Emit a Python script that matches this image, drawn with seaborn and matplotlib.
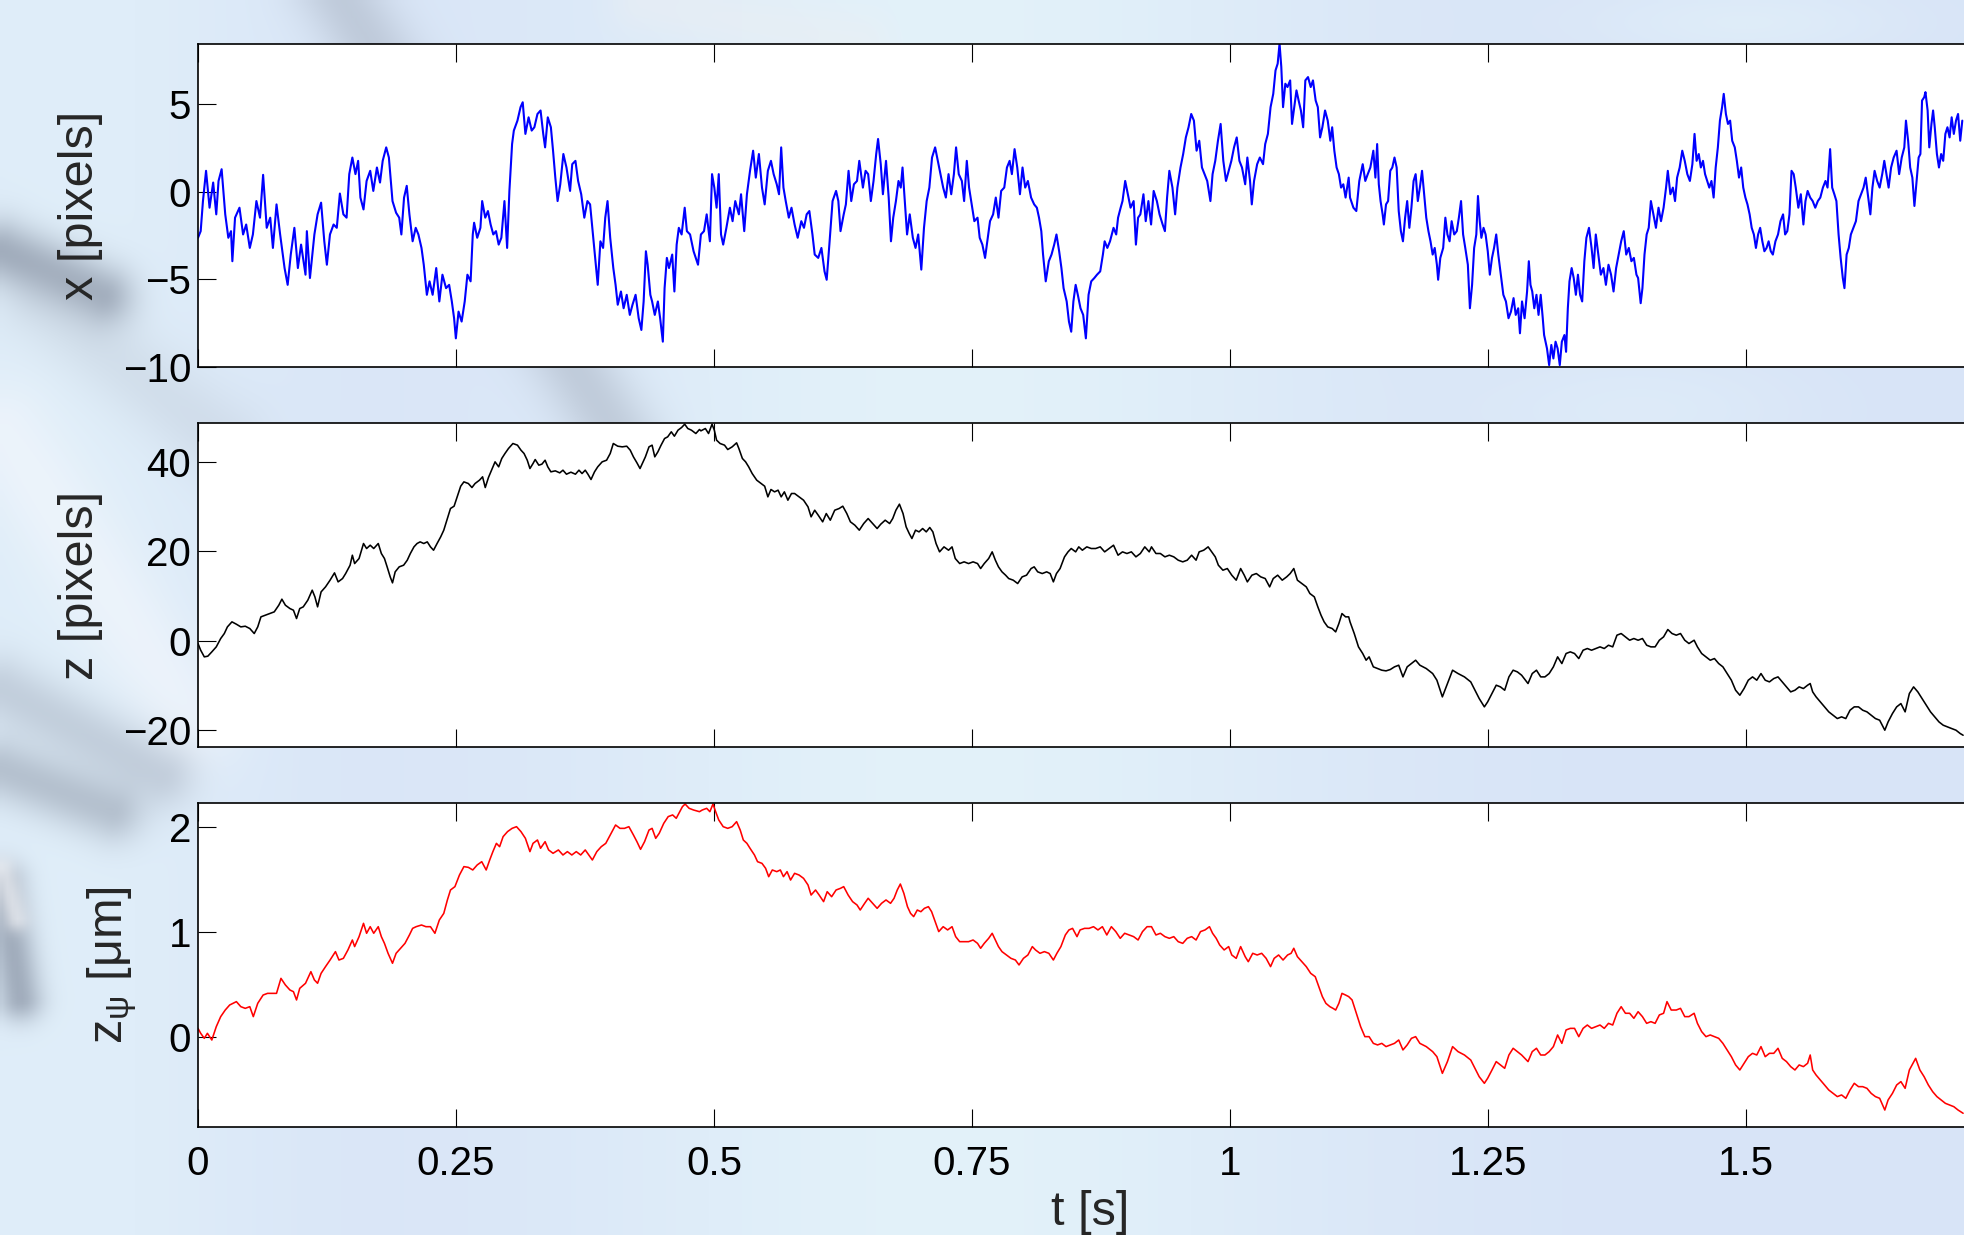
import numpy as np
import matplotlib
matplotlib.use("Agg")
import matplotlib.pyplot as plt
import seaborn as sns

# ---------------------------------------------------------------------------
# Traces: [time in ms, value]
# ---------------------------------------------------------------------------
x_trace = np.array([
    [0, -2.64], [2.6, -2.26], [4.8, -0.54], [7.8, 1.19], [11.2, -0.92], [14.7, 0.52],
    [17.7, -1.30], [19.9, 0.61], [22.9, 1.28], [26.4, -1.30], [29.4, -2.64], [32.0, -2.26],
    [33.3, -3.98], [35.9, -1.49], [40.2, -0.92], [43.7, -2.45], [46.7, -1.88], [50.2, -3.22],
    [53.2, -2.45], [56.6, -0.54], [60.1, -1.49], [63.1, 0.96], [66.6, -2.07], [70.0, -1.49],
    [72.6, -3.22], [76.1, -0.73], [79.6, -2.45], [83.9, -4.37], [86.9, -5.33], [89.9, -3.60],
    [93.4, -2.07], [96.8, -4.37], [99.9, -3.03], [104.2, -4.75], [105.5, -2.26], [108.5, -4.94],
    [112.8, -2.45], [115.9, -1.30], [119.3, -0.63], [122.4, -2.84], [124.9, -4.18], [127.9, -2.45],
    [131.4, -1.88], [134.5, -2.07], [137.5, -0.11], [140.9, -1.30], [144.0, -1.49], [146.6, 1.00],
    [149.6, 1.95], [152.6, 1.00], [155.2, 1.76], [157.4, -0.34], [160.4, -1.02], [163.4, 0.61],
    [166.9, 1.19], [169.9, 0.04], [173.4, 1.38], [176.4, 0.52], [179.0, 1.76], [182.4, 2.53],
    [185.0, 1.95], [188.5, -0.54], [192.0, -1.21], [195.0, -1.49], [197.1, -2.45], [199.7, -0.34],
    [202.3, 0.33], [204.9, -1.30], [208.0, -2.84], [211.0, -2.07], [213.6, -2.45], [216.6, -3.22],
    [218.8, -4.18], [221.8, -5.90], [224.4, -5.13], [227.4, -5.90], [230.9, -4.37], [233.9, -6.28],
    [236.9, -4.75], [240.4, -5.52], [243.4, -5.33], [246.0, -6.28], [248.2, -7.24], [249.9, -8.39],
    [252.5, -6.86], [255.5, -7.43], [258.5, -6.28], [261.1, -4.75], [264.2, -5.13], [266.3, -2.45],
    [267.6, -1.78], [270.6, -2.64], [273.7, -2.07], [275.4, -0.54], [278.4, -1.49], [281.0, -1.11],
    [283.6, -1.88], [286.2, -2.45], [288.8, -2.26], [291.4, -3.03], [294.0, -2.64], [297.0, -0.54],
    [299.6, -3.22], [301.8, 0.04], [304.4, 2.72], [306.1, 3.49], [309.6, 4.06], [312.6, 4.83],
    [314.7, 5.11], [317.3, 3.30], [320.4, 4.25], [323.4, 3.49], [326.0, 3.68], [329.0, 4.44],
    [332.0, 4.64], [334.6, 3.30], [336.4, 2.53], [339.0, 4.25], [342.0, 3.68], [344.1, 2.34],
    [346.3, 0.80], [348.5, -0.54], [351.1, 0.42], [354.1, 2.15], [357.1, 1.38], [360.6, 0.04],
    [362.7, 1.57], [365.8, 1.76], [368.4, 0.61], [371.4, -0.15], [374.4, -1.49], [377.4, -0.54],
    [380.0, -0.73], [383.1, -2.64], [385.2, -3.98], [387.4, -5.33], [390.0, -2.84], [392.6, -3.22],
    [394.7, -1.49], [396.9, -0.54], [399.5, -2.64], [402.5, -4.37], [404.7, -5.33], [406.8, -6.47],
    [409.9, -5.71], [412.5, -6.67], [415.5, -5.90], [418.5, -7.05], [421.1, -6.47], [424.1, -5.90],
    [427.1, -7.24], [429.7, -7.91], [431.9, -6.28], [434.1, -3.41], [435.8, -4.18], [438.4, -5.90],
    [440.1, -6.28], [442.7, -7.05], [445.7, -6.28], [447.9, -7.24], [450.5, -8.58], [452.2, -5.52],
    [454.4, -3.79], [456.5, -4.37], [459.6, -3.60], [461.7, -5.71], [463.9, -3.03], [466.0, -2.07],
    [468.7, -2.45], [471.7, -0.92], [473.8, -2.26], [476.9, -2.45], [480.3, -3.41], [484.6, -4.18],
    [487.4, -2.45], [490.4, -2.26], [493.0, -1.30], [496.1, -2.84], [498.2, 1.00], [500.4, 0.23],
    [502.6, -0.92], [504.7, 1.00], [506.9, -2.45], [509.0, -3.03], [512.1, -2.07], [515.5, -0.92],
    [518.1, -1.69], [520.7, -0.54], [524.2, -1.30], [526.3, -0.15], [529.4, -2.26], [532.0, -0.15],
    [535.0, 1.19], [538.0, 2.34], [540.6, 0.80], [543.6, 2.15], [546.6, 0.23], [549.2, -0.73],
    [552.3, 1.19], [555.3, 1.76], [557.9, 1.00], [560.9, 0.42], [563.1, -0.15], [565.2, 2.53],
    [567.4, 0.23], [569.6, -0.54], [572.6, -1.49], [575.2, -0.92], [578.2, -1.88], [581.2, -2.64],
    [584.7, -1.69], [587.3, -2.07], [589.9, -1.30], [592.5, -1.11], [595.5, -2.45], [597.7, -3.60],
    [601.1, -3.79], [604.2, -3.22], [607.2, -4.56], [609.3, -5.04], [611.9, -3.03], [615.0, -0.54],
    [618.4, 0.04], [620.6, -0.54], [622.7, -2.26], [625.8, -1.30], [627.9, -0.73], [630.5, 1.19],
    [633.1, -0.54], [635.7, 0.42], [638.7, 0.61], [640.9, 1.76], [644.4, 0.23], [647.0, 1.19],
    [649.5, 1.00], [652.1, -0.54], [654.7, 0.61], [657.3, 2.15], [659.1, 3.01], [661.7, 1.57],
    [663.8, -0.15], [666.8, 1.76], [669.4, -0.34], [671.6, -2.84], [673.8, -1.49], [676.4, -0.54],
    [678.9, 0.61], [681.1, 0.23], [682.8, 1.38], [685.0, -0.54], [687.2, -2.45], [689.8, -1.30],
    [692.8, -2.64], [695.4, -3.22], [698.0, -2.45], [701.0, -4.46], [703.6, -2.07], [706.2, -0.54],
    [708.8, 0.23], [711.4, 1.95], [714.4, 2.53], [717.0, 1.76], [719.6, 1.00], [722.2, 0.23],
    [724.8, -0.34], [727.4, 1.00], [730.0, -0.15], [732.6, 1.00], [734.7, 2.53], [737.3, 1.00],
    [740.3, 0.61], [742.5, -0.54], [745.1, 1.76], [747.3, 0.23], [749.9, -0.73], [752.4, -1.69],
    [755.5, -1.49], [757.6, -2.64], [760.2, -3.03], [762.8, -3.79], [765.0, -2.84], [767.6, -1.69],
    [770.6, -1.30], [773.2, -0.34], [775.8, -1.49], [778.4, 0.04], [781.4, 0.23], [784.0, 1.38],
    [786.6, 1.76], [788.8, 1.00], [791.4, 2.43], [794.0, 1.38], [796.6, -0.15], [799.1, 1.38],
    [801.7, 0.23], [804.3, 0.61], [807.4, -0.34], [810.4, -0.73], [813.0, -0.92], [815.1, -1.49],
    [817.3, -2.26], [819.0, -3.60], [821.6, -5.13], [824.6, -3.98], [827.2, -3.60], [829.8, -3.03],
    [832.0, -2.45], [834.6, -3.41], [836.8, -4.37], [838.9, -5.52], [841.9, -6.28], [844.1, -7.43],
    [846.3, -8.01], [848.4, -6.28], [850.6, -5.33], [852.7, -5.90], [855.3, -6.67], [857.9, -7.05],
    [860.5, -8.39], [863.1, -5.90], [865.7, -5.13], [868.7, -4.94], [871.3, -4.75], [874.4, -4.56],
    [877.0, -3.60], [878.7, -2.84], [881.3, -3.22], [883.9, -2.84], [887.3, -2.07], [889.9, -2.45],
    [891.7, -1.49], [894.2, -0.92], [896.0, -0.54], [898.6, 0.61], [901.2, -0.15], [903.8, -0.92],
    [906.8, -0.54], [909.0, -3.03], [911.1, -1.49], [913.3, -1.30], [916.3, -0.15], [918.5, -1.69],
    [921.1, -0.54], [923.7, -1.88], [926.2, 0.04], [929.3, -0.54], [931.9, -1.30], [934.9, -1.88],
    [937.1, -2.26], [939.2, -0.34], [941.4, 1.19], [944.4, 0.23], [947.0, -1.30], [949.2, 0.23],
    [952.2, 1.38], [954.8, 2.15], [957.4, 3.10], [960.0, 3.68], [962.6, 4.44], [965.2, 4.06],
    [967.8, 2.34], [970.4, 2.91], [973.0, 1.38], [975.5, 1.00], [978.1, 0.61], [981.2, -0.54],
    [983.3, 1.00], [985.9, 1.76], [988.5, 2.91], [991.1, 3.87], [993.7, 1.76], [996.3, 0.61],
    [998.9, 1.19], [1001.5, 1.76], [1004.1, 2.53], [1006.7, 3.10], [1009.3, 1.76], [1011.8, 1.38],
    [1014.9, 0.42], [1017.0, 1.95], [1019.6, 0.61], [1021.3, -0.73], [1023.5, 0.61], [1026.5, 1.57],
    [1029.1, 1.95], [1032.2, 1.57], [1034.3, 2.72], [1036.9, 3.30], [1039.5, 4.83], [1042.1, 5.59],
    [1044.3, 6.93], [1046.4, 7.32], [1048.2, 8.47], [1049.9, 7.13], [1051.6, 4.83], [1053.8, 6.17],
    [1055.9, 5.98], [1058.5, 6.36], [1060.3, 3.87], [1062.4, 4.83], [1064.6, 5.79], [1066.7, 5.21],
    [1068.9, 4.64], [1071.1, 3.68], [1073.2, 6.36], [1075.8, 6.55], [1078.4, 5.98], [1080.6, 6.36],
    [1083.2, 5.21], [1085.3, 4.83], [1087.5, 3.10], [1089.7, 3.68], [1092.3, 4.64], [1094.9, 4.06],
    [1097.4, 2.91], [1099.2, 3.68], [1101.3, 2.34], [1103.5, 1.38], [1105.7, 1.00], [1107.8, 0.23],
    [1110.0, 0.42], [1112.2, -0.34], [1115.2, 0.80], [1116.5, -0.34], [1119.8, -0.92], [1122.6, -1.11],
    [1125.5, 0.61], [1128.8, 1.57], [1131.3, 0.61], [1133.7, 1.00], [1136.2, 1.38], [1139.1, 2.34],
    [1141.1, 0.80], [1142.8, 2.72], [1144.4, 0.42], [1146.1, -0.54], [1148.1, -1.30], [1149.3, -1.88],
    [1151.4, -0.73], [1153.4, -0.54], [1155.5, 1.19], [1157.5, 1.38], [1159.6, 1.95], [1161.7, 1.38],
    [1163.7, -1.11], [1165.8, -2.26], [1167.8, -2.84], [1169.9, -1.49], [1171.9, -0.54], [1174.0, -2.07],
    [1176.0, -0.92], [1178.1, 0.61], [1180.1, 1.00], [1182.2, -0.54], [1184.2, 0.23], [1186.3, 1.19],
    [1188.4, -0.15], [1190.4, -1.49], [1192.5, -2.26], [1194.5, -2.84], [1196.6, -3.60], [1198.6, -3.22],
    [1200.7, -4.18], [1201.9, -5.04], [1204.0, -3.79], [1206.8, -3.22], [1208.9, -1.49], [1210.9, -2.45],
    [1213.0, -2.84], [1215.0, -1.69], [1217.5, -2.45], [1220.0, -2.26], [1222.0, -1.49], [1224.1, -0.54],
    [1226.1, -2.45], [1228.2, -3.22], [1230.7, -4.18], [1232.7, -6.67], [1234.8, -5.33], [1236.8, -3.22],
    [1238.9, -2.45], [1240.5, -0.25], [1242.2, -1.69], [1243.8, -2.64], [1245.9, -2.07], [1247.9, -2.45],
    [1250.0, -3.41], [1252.0, -4.75], [1254.1, -3.79], [1256.1, -3.22], [1258.2, -2.45], [1260.2, -3.60],
    [1262.7, -4.75], [1265.1, -5.90], [1267.6, -6.28], [1270.1, -7.24], [1272.5, -6.86], [1275.0, -6.09],
    [1277.1, -7.05], [1279.5, -6.67], [1281.2, -8.10], [1283.2, -6.28], [1285.7, -7.24], [1288.1, -5.71],
    [1289.8, -3.98], [1291.4, -5.33], [1293.1, -5.71], [1295.1, -6.67], [1297.2, -5.90], [1299.2, -7.05],
    [1301.3, -5.90], [1303.3, -7.24], [1304.6, -8.20], [1307.4, -8.97], [1309.5, -9.92], [1311.6, -8.77],
    [1313.6, -9.54], [1315.7, -8.58], [1317.7, -8.97], [1319.8, -9.92], [1321.8, -8.58], [1324.3, -8.20],
    [1325.9, -9.16], [1327.6, -6.67], [1329.2, -5.13], [1331.3, -4.37], [1333.3, -4.94], [1335.4, -5.90],
    [1337.4, -4.75], [1339.5, -5.90], [1341.5, -6.28], [1343.6, -3.98], [1345.6, -2.64], [1348.1, -2.07],
    [1350.6, -3.22], [1352.6, -4.37], [1354.7, -2.45], [1357.1, -3.60], [1359.6, -4.75], [1362.1, -4.37],
    [1364.5, -5.33], [1367.0, -4.18], [1369.5, -4.75], [1371.9, -5.71], [1374.4, -4.37], [1376.9, -3.60],
    [1379.3, -2.84], [1381.8, -2.26], [1384.2, -3.60], [1386.7, -3.22], [1389.2, -3.98], [1391.6, -3.79],
    [1394.1, -4.75], [1395.7, -4.94], [1398.2, -6.38], [1399.9, -5.52], [1401.9, -3.60], [1404.0, -2.45],
    [1406.0, -2.07], [1408.1, -0.54], [1410.5, -1.30], [1413.0, -2.07], [1415.5, -0.92], [1417.9, -1.69],
    [1420.4, -0.92], [1422.8, 0.23], [1424.5, 1.19], [1427.0, -0.15], [1429.4, 0.23], [1431.5, -0.54],
    [1433.5, 0.80], [1436.0, 1.38], [1438.5, 2.34], [1440.9, 1.76], [1443.4, 1.00], [1445.9, 0.61],
    [1448.3, 1.57], [1450.4, 3.30], [1452.4, 1.76], [1454.5, 2.15], [1456.5, 1.38], [1458.6, 1.76],
    [1460.6, 1.00], [1462.7, 0.61], [1464.7, 0.23], [1466.8, 0.61], [1468.9, -0.34], [1470.9, 1.38],
    [1473.0, 2.53], [1475.0, 4.06], [1477.1, 4.83], [1478.7, 5.59], [1480.8, 4.44], [1482.8, 3.87],
    [1484.9, 4.06], [1486.9, 2.91], [1489.4, 2.53], [1491.4, 1.76], [1493.5, 0.80], [1495.6, 1.38],
    [1497.6, 0.23], [1499.7, -0.34], [1501.7, -0.73], [1503.8, -1.30], [1505.8, -2.07], [1507.9, -2.45],
    [1509.9, -3.22], [1512.0, -2.45], [1514.0, -2.07], [1516.1, -2.84], [1518.1, -3.41], [1520.2, -3.22],
    [1522.2, -2.84], [1524.3, -3.41], [1526.3, -3.60], [1528.8, -2.84], [1531.3, -2.45], [1533.7, -1.69],
    [1536.2, -1.30], [1538.2, -2.45], [1540.3, -2.26], [1542.4, -1.30], [1544.4, 1.19], [1546.5, 1.00],
    [1548.5, 0.23], [1551.0, -0.92], [1553.4, -0.15], [1555.9, -1.88], [1557.9, -0.54], [1560.0, 0.04],
    [1562.5, -0.34], [1564.9, -0.54], [1567.4, -0.92], [1569.9, -0.54], [1572.3, -0.34], [1574.8, 0.23],
    [1577.3, 0.61], [1579.3, 0.23], [1581.8, 2.43], [1583.8, 0.23], [1585.9, -0.15], [1587.9, -0.54],
    [1590.0, -2.45], [1592.0, -3.79], [1594.1, -4.94], [1595.7, -5.52], [1597.8, -3.60], [1599.9, -3.22],
    [1601.9, -2.45], [1604.4, -2.07], [1606.8, -1.69], [1609.3, -0.54], [1611.8, -0.15], [1614.2, 0.23],
    [1616.3, 0.80], [1618.3, -0.15], [1620.8, -1.30], [1622.8, 0.23], [1624.9, 1.19], [1627.4, 0.61],
    [1629.8, 0.23], [1632.3, 1.00], [1634.3, 1.76], [1636.4, 1.00], [1638.5, 0.23], [1640.9, 1.38],
    [1643.4, 1.95], [1646.2, 2.34], [1648.7, 1.00], [1651.2, 1.95], [1653.7, 2.53], [1655.3, 4.06],
    [1657.4, 2.91], [1659.4, 1.38], [1661.5, 0.80], [1663.5, -0.82], [1665.6, 0.61], [1667.6, 1.95],
    [1669.3, 2.15], [1670.9, 5.21], [1673.0, 5.40], [1674.2, 5.69], [1676.3, 4.64], [1677.9, 2.53],
    [1680.0, 3.87], [1681.6, 4.64], [1683.2, 3.68], [1685.3, 2.15], [1687.3, 1.38], [1689.4, 2.15],
    [1691.4, 1.76], [1693.5, 3.30], [1695.5, 3.68], [1697.6, 3.10], [1699.6, 4.25], [1701.7, 3.30],
    [1703.8, 4.06], [1705.8, 4.44], [1707.9, 2.91], [1709.9, 4.06],
])

z_trace = np.array([
    [0, -0.67], [2.6, -2.17], [6.1, -3.66], [9.5, -3.51], [13.4, -2.54], [17.7, -1.42],
    [22.0, 0.45], [25.5, 1.57], [28.5, 3.06], [32.9, 4.19], [37.2, 3.66], [41.5, 3.06],
    [45.8, 3.21], [50.2, 2.69], [54.5, 1.57], [57.9, 3.06], [61.0, 5.31], [65.3, 5.68],
    [69.6, 6.05], [73.9, 6.43], [78.3, 7.92], [81.3, 9.27], [84.7, 7.92], [89.1, 7.17],
    [92.5, 6.80], [95.5, 4.93], [98.6, 7.17], [102.0, 7.55], [106.4, 9.04], [110.7, 11.29],
    [113.3, 9.79], [115.9, 7.55], [119.3, 10.91], [123.6, 12.03], [128.0, 13.53], [132.3, 15.17],
    [135.8, 13.15], [140.1, 13.90], [143.1, 15.02], [147.4, 16.89], [149.6, 19.13], [151.8, 17.26],
    [156.1, 18.39], [160.4, 21.75], [163.4, 20.63], [166.9, 21.37], [170.3, 20.63], [174.7, 21.75],
    [177.7, 19.51], [180.7, 18.39], [183.3, 16.52], [186.3, 14.27], [188.5, 12.93], [191.1, 15.40],
    [195.0, 16.52], [199.3, 16.89], [202.8, 18.01], [205.8, 19.51], [209.3, 21.00], [212.3, 21.75],
    [215.3, 22.12], [218.8, 21.75], [222.2, 22.12], [225.3, 21.00], [228.3, 20.25], [231.7, 21.75],
    [235.2, 23.24], [238.2, 24.74], [241.2, 26.98], [244.7, 29.60], [248.2, 30.12], [251.2, 32.21],
    [254.6, 34.60], [257.7, 35.57], [262.0, 35.20], [265.5, 34.30], [268.5, 35.20], [272.8, 35.95],
    [275.8, 36.70], [278.4, 34.30], [281.5, 36.55], [284.5, 38.19], [287.9, 40.06], [291.4, 38.94],
    [294.4, 40.81], [297.5, 41.93], [300.9, 43.05], [305.2, 44.17], [309.6, 43.80], [313.0, 42.68],
    [316.0, 41.93], [319.1, 40.43], [321.7, 38.56], [324.7, 39.69], [326.8, 40.58], [330.3, 39.31],
    [333.3, 39.54], [336.4, 40.43], [339.0, 38.94], [342.0, 37.82], [346.3, 38.04], [350.6, 37.59],
    [353.7, 38.19], [357.1, 37.29], [361.4, 37.74], [365.8, 37.29], [369.2, 38.19], [372.2, 37.44],
    [375.3, 38.19], [377.9, 37.29], [380.9, 36.10], [384.3, 37.82], [387.4, 38.94], [391.7, 40.06],
    [396.0, 40.43], [399.5, 41.93], [402.5, 44.17], [406.8, 43.57], [411.2, 43.42], [415.5, 43.57],
    [418.9, 42.68], [422.0, 41.18], [425.4, 39.84], [428.4, 38.56], [430.6, 39.69], [433.6, 41.18],
    [437.1, 43.42], [440.1, 43.80], [442.7, 41.18], [445.7, 42.30], [448.8, 43.80], [452.2, 45.29],
    [455.2, 45.66], [458.7, 46.79], [461.7, 45.81], [465.2, 47.16], [468.7, 47.76], [471.7, 48.50],
    [474.7, 47.53], [478.2, 47.16], [482.5, 46.41], [486.0, 47.31], [487.4, 47.01], [491.7, 47.53],
    [494.8, 46.41], [498.2, 48.50], [500.4, 47.16], [502.6, 44.92], [506.0, 44.17], [510.3, 43.80],
    [513.4, 42.82], [517.7, 43.42], [522.0, 44.32], [524.2, 43.05], [527.6, 40.81], [530.7, 40.06],
    [533.7, 38.94], [537.1, 37.44], [541.5, 35.95], [545.8, 35.20], [549.2, 34.60], [552.3, 32.21],
    [555.3, 33.86], [558.8, 33.33], [562.2, 33.71], [565.2, 32.21], [568.3, 33.33], [571.7, 31.46],
    [575.2, 32.96], [578.2, 32.96], [582.5, 32.21], [586.9, 31.46], [591.2, 29.97], [594.2, 27.73],
    [597.7, 29.22], [601.1, 28.10], [605.4, 26.61], [608.9, 28.47], [612.8, 26.98], [617.1, 29.22],
    [621.4, 29.60], [624.9, 30.12], [628.8, 28.47], [632.3, 26.61], [636.6, 25.86], [640.9, 24.74],
    [645.2, 26.23], [649.5, 27.35], [653.9, 26.23], [658.2, 25.11], [661.7, 26.08], [666.0, 26.98],
    [670.3, 26.23], [673.3, 27.35], [676.4, 29.22], [679.8, 30.57], [683.3, 28.47], [686.3, 25.49],
    [689.3, 23.99], [691.9, 22.87], [695.4, 24.74], [698.8, 24.36], [702.3, 25.11], [705.8, 24.36],
    [709.2, 25.34], [712.2, 24.36], [715.3, 21.75], [718.7, 19.88], [723.0, 21.00], [727.4, 20.25],
    [730.8, 21.00], [733.9, 18.39], [738.2, 17.26], [742.5, 17.64], [746.8, 17.26], [751.2, 17.64],
    [755.5, 17.26], [758.5, 16.14], [762.0, 17.26], [766.3, 18.39], [769.7, 19.88], [772.8, 18.01],
    [775.8, 16.52], [779.2, 15.40], [782.7, 14.65], [785.7, 13.90], [790.1, 13.53], [794.4, 12.78],
    [798.7, 14.27], [803.0, 14.65], [807.4, 16.14], [810.4, 16.52], [813.8, 15.40], [818.2, 15.02],
    [822.5, 15.40], [825.9, 15.02], [829.0, 13.15], [832.0, 15.02], [835.5, 16.14], [839.8, 18.76],
    [843.2, 19.88], [846.3, 20.63], [850.6, 19.88], [853.6, 21.00], [857.1, 20.25], [861.4, 21.00],
    [865.7, 20.63], [870.0, 20.63], [874.4, 21.00], [878.7, 19.88], [883.0, 20.63], [887.3, 21.37],
    [891.7, 19.13], [896.0, 19.88], [900.3, 19.51], [904.6, 19.88], [909.0, 18.76], [913.3, 19.51],
    [917.6, 21.00], [921.9, 19.88], [924.1, 21.00], [928.4, 19.51], [932.7, 19.51], [937.1, 18.76],
    [941.4, 19.13], [945.7, 18.76], [950.0, 18.01], [954.4, 17.64], [958.7, 18.01], [963.0, 19.13],
    [967.3, 18.01], [970.3, 19.88], [974.7, 20.25], [979.0, 21.00], [982.5, 19.88], [985.9, 18.76],
    [988.9, 16.89], [993.3, 15.77], [997.6, 16.14], [1001.9, 14.65], [1006.2, 13.53], [1010.5, 16.14],
    [1014.0, 14.65], [1017.0, 13.15], [1021.4, 14.65], [1025.7, 15.02], [1030.0, 14.27], [1034.3, 13.90],
    [1038.6, 12.03], [1042.1, 13.90], [1046.4, 14.65], [1050.8, 13.53], [1055.1, 14.27], [1058.5, 15.02],
    [1062.0, 16.14], [1065.5, 13.53], [1069.8, 12.78], [1074.1, 12.03], [1077.6, 10.54], [1081.9, 9.79],
    [1085.3, 7.55], [1088.4, 5.68], [1091.4, 4.19], [1094.9, 3.06], [1099.2, 2.69], [1102.6, 1.94],
    [1105.7, 3.81], [1108.7, 6.05], [1112.2, 5.31], [1115.2, 5.31], [1116.5, 4.19], [1120.6, 1.57],
    [1124.7, -1.42], [1128.8, -2.91], [1132.1, -4.41], [1135.0, -3.66], [1139.1, -5.90], [1143.2, -6.28],
    [1147.3, -6.65], [1151.4, -6.80], [1155.5, -6.50], [1159.6, -5.90], [1163.7, -5.53], [1167.8, -8.15],
    [1171.9, -5.90], [1176.0, -5.16], [1180.1, -4.41], [1184.2, -5.53], [1190.4, -6.28], [1196.6, -7.40],
    [1200.7, -8.89], [1206.0, -12.63], [1210.9, -9.64], [1215.9, -6.65], [1221.2, -7.40], [1227.4, -8.15],
    [1233.5, -9.27], [1237.6, -11.14], [1241.7, -13.00], [1246.7, -14.87], [1249.9, -13.75], [1254.1, -11.88],
    [1258.2, -10.01], [1262.3, -10.39], [1266.4, -11.14], [1270.5, -8.15], [1274.6, -6.65], [1278.7, -7.03],
    [1282.8, -7.77], [1289.0, -9.64], [1293.1, -7.40], [1297.2, -6.65], [1301.3, -8.15], [1305.4, -8.15],
    [1309.5, -7.40], [1313.6, -5.90], [1317.7, -3.66], [1321.8, -5.16], [1325.9, -2.91], [1330.0, -2.54],
    [1334.1, -2.91], [1338.2, -4.04], [1342.4, -2.17], [1346.5, -1.79], [1350.6, -2.17], [1354.7, -1.79],
    [1358.8, -1.42], [1362.9, -1.79], [1367.0, -1.05], [1371.1, -1.42], [1375.2, 1.20], [1379.3, 1.57],
    [1383.4, 0.82], [1387.5, 0.07], [1391.6, 0.45], [1395.7, 0.07], [1399.9, 0.45], [1404.0, -1.05],
    [1408.1, -1.42], [1412.2, -1.42], [1416.3, 0.07], [1420.4, 0.82], [1424.5, 2.47], [1428.6, 1.57],
    [1432.7, 1.20], [1436.8, 1.57], [1440.9, 0.07], [1445.0, -0.67], [1450.0, 0.07], [1453.2, -1.42],
    [1457.3, -2.91], [1461.5, -3.66], [1465.6, -4.41], [1469.7, -4.04], [1473.8, -5.16], [1477.9, -5.90],
    [1482.0, -7.40], [1486.1, -8.89], [1490.2, -11.14], [1494.3, -12.26], [1498.4, -10.76], [1502.5, -8.89],
    [1506.6, -8.15], [1510.7, -8.89], [1514.8, -7.40], [1518.9, -8.89], [1523.0, -9.27], [1527.2, -8.52],
    [1531.3, -8.15], [1535.4, -9.27], [1539.5, -10.39], [1543.6, -11.51], [1547.7, -11.14], [1551.8, -10.39],
    [1555.9, -10.76], [1560.0, -10.01], [1562.5, -9.64], [1564.9, -11.51], [1568.2, -12.63], [1572.3, -13.75],
    [1576.4, -14.87], [1580.5, -15.99], [1584.7, -16.74], [1588.8, -17.49], [1592.9, -17.11], [1597.0, -17.49],
    [1601.1, -15.62], [1605.2, -14.87], [1609.3, -14.87], [1613.4, -15.62], [1617.5, -15.99], [1621.6, -16.74],
    [1625.7, -17.49], [1629.8, -17.86], [1634.8, -20.10], [1638.0, -18.24], [1642.2, -16.37], [1646.3, -14.87],
    [1650.4, -14.13], [1654.5, -15.99], [1658.6, -11.88], [1662.7, -10.39], [1666.8, -11.51], [1670.9, -13.00],
    [1675.0, -14.50], [1679.1, -15.99], [1683.2, -17.11], [1687.3, -18.24], [1691.4, -18.98], [1695.5, -19.36],
    [1699.6, -19.73], [1703.8, -20.10], [1707.9, -20.85], [1710.7, -21.23],
])

zpsi_trace = np.array([
    [0, 0.079], [2.6, 0.032], [6.1, -0.016], [9.1, 0.032], [13.4, -0.032], [17.7, 0.095],
    [22.0, 0.191], [26.4, 0.254], [30.7, 0.302], [37.2, 0.334], [41.5, 0.286], [45.8, 0.270],
    [50.2, 0.286], [53.6, 0.191], [57.9, 0.318], [63.1, 0.397], [67.4, 0.413], [71.8, 0.413],
    [76.1, 0.413], [80.4, 0.556], [84.7, 0.493], [89.1, 0.445], [92.5, 0.429], [95.5, 0.350],
    [98.6, 0.461], [104.2, 0.509], [109.4, 0.620], [112.8, 0.541], [115.9, 0.509], [119.3, 0.604],
    [123.6, 0.668], [128.0, 0.731], [133.2, 0.811], [136.6, 0.731], [140.9, 0.747], [145.3, 0.827],
    [149.6, 0.922], [151.8, 0.859], [156.1, 0.954], [160.4, 1.081], [163.4, 0.986], [166.9, 1.049],
    [170.3, 0.986], [174.7, 1.049], [177.7, 0.954], [180.7, 0.890], [184.2, 0.795], [188.5, 0.700],
    [192.0, 0.795], [196.3, 0.843], [200.6, 0.890], [204.9, 0.970], [208.0, 1.033], [211.4, 1.049],
    [216.6, 1.065], [220.9, 1.049], [225.3, 1.049], [229.6, 0.986], [233.9, 1.113], [238.2, 1.176],
    [241.7, 1.304], [244.7, 1.399], [249.0, 1.431], [253.4, 1.542], [257.7, 1.622], [262.0, 1.615],
    [266.3, 1.590], [270.6, 1.638], [275.0, 1.669], [279.3, 1.590], [282.7, 1.685], [285.8, 1.765],
    [289.2, 1.844], [292.3, 1.812], [295.7, 1.908], [300.0, 1.956], [304.4, 1.987], [308.7, 2.003],
    [313.0, 1.956], [317.3, 1.892], [321.7, 1.765], [324.7, 1.844], [329.0, 1.876], [332.0, 1.797],
    [336.4, 1.860], [339.8, 1.781], [344.1, 1.749], [349.3, 1.781], [353.7, 1.733], [358.0, 1.765],
    [362.3, 1.733], [366.6, 1.765], [370.9, 1.733], [375.3, 1.781], [378.7, 1.733], [382.2, 1.685],
    [386.5, 1.765], [390.8, 1.812], [395.2, 1.844], [399.5, 1.924], [404.7, 2.019], [409.0, 1.987],
    [413.3, 1.987], [417.6, 2.003], [422.0, 1.924], [425.4, 1.860], [428.9, 1.787], [432.8, 1.860],
    [437.1, 1.971], [440.1, 1.987], [443.6, 1.892], [447.0, 1.940], [451.4, 2.035], [455.7, 2.099],
    [460.0, 2.115], [463.5, 2.083], [466.9, 2.146], [469.5, 2.194], [472.1, 2.219], [476.0, 2.178],
    [480.3, 2.162], [486.0, 2.146], [488.7, 2.162], [493.0, 2.178], [496.1, 2.146], [499.1, 2.219],
    [501.7, 2.146], [504.7, 2.067], [509.0, 2.003], [513.4, 1.987], [517.7, 2.003], [522.0, 2.051],
    [525.5, 1.971], [528.5, 1.876], [532.0, 1.844], [535.0, 1.797], [539.3, 1.733], [542.3, 1.669],
    [546.6, 1.653], [550.1, 1.606], [553.1, 1.526], [556.6, 1.590], [560.9, 1.574], [564.4, 1.590],
    [567.4, 1.526], [570.9, 1.574], [574.3, 1.494], [578.2, 1.558], [582.5, 1.542], [586.9, 1.510],
    [591.2, 1.447], [594.2, 1.351], [598.5, 1.399], [602.0, 1.351], [606.3, 1.288], [609.8, 1.383],
    [614.1, 1.335], [618.4, 1.399], [622.7, 1.415], [625.8, 1.431], [630.1, 1.351], [634.4, 1.288],
    [638.7, 1.256], [641.8, 1.208], [646.1, 1.272], [649.5, 1.320], [653.9, 1.272], [658.2, 1.224],
    [662.5, 1.272], [666.8, 1.304], [671.2, 1.272], [674.6, 1.320], [677.7, 1.399], [680.7, 1.456],
    [684.1, 1.367], [687.6, 1.240], [690.6, 1.176], [693.6, 1.145], [697.1, 1.208], [700.6, 1.192],
    [704.0, 1.224], [707.9, 1.240], [711.0, 1.192], [714.4, 1.097], [717.9, 1.002], [722.2, 1.049],
    [726.5, 1.018], [730.8, 1.049], [734.3, 0.954], [738.2, 0.906], [742.5, 0.906], [746.8, 0.906],
    [751.2, 0.922], [755.5, 0.890], [758.5, 0.843], [762.0, 0.890], [766.3, 0.938], [769.7, 0.986],
    [772.8, 0.922], [775.8, 0.859], [779.2, 0.811], [783.6, 0.779], [787.9, 0.747], [792.2, 0.731],
    [795.7, 0.684], [800.0, 0.747], [804.3, 0.779], [808.6, 0.859], [811.7, 0.827], [816.0, 0.795],
    [820.3, 0.811], [824.6, 0.795], [829.0, 0.731], [832.4, 0.795], [836.3, 0.859], [840.6, 0.970],
    [844.1, 1.018], [847.6, 1.033], [851.9, 0.954], [854.9, 1.018], [859.2, 1.033], [863.6, 1.033],
    [867.9, 1.049], [872.2, 1.018], [876.5, 1.049], [880.8, 0.970], [885.2, 1.049], [889.5, 1.002],
    [893.8, 0.938], [898.1, 0.986], [902.5, 0.970], [906.8, 0.954], [911.1, 0.922], [915.4, 1.002],
    [919.8, 1.049], [924.1, 1.049], [928.4, 0.970], [932.7, 0.986], [937.1, 0.954], [941.4, 0.938],
    [945.7, 0.954], [950.0, 0.906], [954.4, 0.890], [958.7, 0.938], [963.0, 0.954], [967.3, 0.922],
    [971.6, 1.002], [976.0, 1.018], [980.3, 1.049], [983.3, 0.986], [986.8, 0.938], [990.2, 0.874],
    [994.5, 0.827], [998.9, 0.859], [1001.9, 0.779], [1006.2, 0.747], [1010.5, 0.859], [1014.9, 0.763],
    [1017.9, 0.715], [1022.2, 0.795], [1026.5, 0.779], [1030.9, 0.795], [1035.2, 0.747], [1039.5, 0.668],
    [1043.0, 0.747], [1047.3, 0.779], [1051.6, 0.731], [1056.0, 0.779], [1059.4, 0.795], [1062.0, 0.843],
    [1065.5, 0.763], [1069.8, 0.715], [1074.1, 0.668], [1078.4, 0.604], [1082.8, 0.572], [1086.2, 0.477],
    [1089.7, 0.382], [1093.1, 0.318], [1097.0, 0.286], [1100.0, 0.270], [1102.6, 0.254], [1105.7, 0.318],
    [1108.7, 0.413], [1112.2, 0.397], [1115.2, 0.382], [1118.5, 0.350], [1122.6, 0.223], [1126.8, 0.095],
    [1130.9, 0.000], [1135.0, 0.000], [1139.1, -0.064], [1143.2, -0.079], [1147.3, -0.064], [1151.4, -0.095],
    [1155.5, -0.079], [1159.6, -0.064], [1163.7, -0.032], [1167.8, -0.127], [1171.9, -0.079], [1176.0, -0.016],
    [1180.1, 0.000], [1184.2, -0.064], [1190.4, -0.095], [1196.6, -0.143], [1200.7, -0.191], [1206.0, -0.350],
    [1210.9, -0.238], [1215.9, -0.095], [1221.2, -0.143], [1227.4, -0.175], [1233.5, -0.223], [1237.6, -0.302],
    [1241.7, -0.382], [1246.7, -0.445], [1249.9, -0.397], [1254.1, -0.318], [1258.2, -0.238], [1262.3, -0.270],
    [1266.4, -0.302], [1270.5, -0.175], [1274.6, -0.111], [1278.7, -0.143], [1282.8, -0.175], [1289.0, -0.238],
    [1293.1, -0.143], [1297.2, -0.111], [1301.3, -0.175], [1305.4, -0.175], [1309.5, -0.143], [1313.6, -0.095],
    [1317.7, 0.016], [1321.8, -0.064], [1325.9, 0.064], [1330.0, 0.079], [1334.1, 0.079], [1338.2, 0.000],
    [1342.4, 0.079], [1346.5, 0.111], [1350.6, 0.079], [1354.7, 0.095], [1358.8, 0.111], [1362.9, 0.079],
    [1367.0, 0.127], [1371.1, 0.111], [1375.2, 0.223], [1379.3, 0.286], [1383.4, 0.223], [1387.5, 0.223],
    [1391.6, 0.175], [1395.7, 0.238], [1399.9, 0.191], [1404.0, 0.127], [1408.1, 0.143], [1412.2, 0.127],
    [1416.3, 0.207], [1420.4, 0.223], [1423.7, 0.334], [1427.8, 0.254], [1432.7, 0.254], [1436.8, 0.270],
    [1440.9, 0.191], [1445.0, 0.191], [1450.0, 0.223], [1453.2, 0.127], [1457.3, 0.048], [1461.5, 0.000],
    [1465.6, 0.016], [1469.7, 0.000], [1473.8, -0.016], [1477.9, -0.064], [1482.0, -0.127], [1486.1, -0.191],
    [1490.2, -0.270], [1494.3, -0.318], [1498.4, -0.254], [1502.5, -0.191], [1506.6, -0.159], [1510.7, -0.175],
    [1514.8, -0.095], [1518.9, -0.191], [1523.0, -0.159], [1527.2, -0.159], [1531.3, -0.111], [1535.4, -0.207],
    [1539.5, -0.238], [1543.6, -0.286], [1547.7, -0.318], [1551.8, -0.270], [1555.9, -0.286], [1560.0, -0.254],
    [1562.5, -0.175], [1564.9, -0.318], [1568.2, -0.366], [1572.3, -0.413], [1576.4, -0.461], [1580.5, -0.509],
    [1584.7, -0.541], [1588.8, -0.572], [1592.9, -0.556], [1597.0, -0.588], [1601.1, -0.509], [1605.2, -0.445],
    [1609.3, -0.477], [1613.4, -0.477], [1617.5, -0.493], [1621.6, -0.541], [1625.7, -0.572], [1629.8, -0.588],
    [1634.8, -0.700], [1638.0, -0.604], [1642.2, -0.541], [1646.3, -0.461], [1650.4, -0.429], [1654.5, -0.493],
    [1658.6, -0.318], [1664.7, -0.207], [1668.8, -0.318], [1672.9, -0.382], [1677.0, -0.461], [1681.2, -0.525],
    [1685.3, -0.572], [1689.4, -0.604], [1693.5, -0.636], [1697.6, -0.652], [1701.7, -0.668], [1705.8, -0.700],
    [1710.7, -0.731],
])

# Axis ticks and labels
time_ticks = [0, 0.25, 0.5, 0.75, 1.0, 1.25, 1.5]
time_tick_labels = ["0", "0.25", "0.5", "0.75", "1", "1.25", "1.5"]
x_ticks = [-10, -5, 0, 5]
z_ticks = [-20, 0, 20, 40]
zpsi_ticks = [0, 1, 2]

# ---------------------------------------------------------------------------
# Style
# ---------------------------------------------------------------------------
sns.set_style("ticks")
plt.rcParams["font.family"] = ["Liberation Sans", "DejaVu Sans"]
plt.rcParams["mathtext.fontset"] = "custom"
plt.rcParams["mathtext.rm"] = "Liberation Sans"
plt.rcParams["mathtext.it"] = "Liberation Sans:italic"
plt.rcParams["axes.unicode_minus"] = True

W, H = 1965, 1235
fig = plt.figure(figsize=(W / 100, H / 100), dpi=100)


# ---------------------------------------------------------------------------
# Soft pale-blue backdrop with blurred grey streaks on the left
# ---------------------------------------------------------------------------
def backdrop():
    step = 5.0
    gy, gx = np.mgrid[0:H // 5 + 1, 0:W // 5 + 1]
    X = gx * step
    Y = gy * step
    blue = np.array([216, 228, 247], float)
    cyan = np.array([230, 246, 251], float)
    w = (0.75 * np.exp(-((X - 950) / 380.0) ** 2)
         + 0.55 * np.exp(-((X - 60) / 220.0) ** 2)
         + 0.45 * np.exp(-((X - 1750) / 160.0) ** 2) * np.exp(-((Y - 20) / 40.0) ** 2)
         + 0.35 * np.exp(-((X - 1650) / 160.0) ** 2) * np.exp(-((Y - 410) / 60.0) ** 2))
    w = np.clip(w, 0, 1)[..., None]
    img = blue * (1 - w) + cyan * w

    def streak(p0, p1, sigma, col, alpha):
        nonlocal img
        p0 = np.array(p0, float)
        p1 = np.array(p1, float)
        d = p1 - p0
        L2 = (d ** 2).sum()
        s = np.clip(((X - p0[0]) * d[0] + (Y - p0[1]) * d[1]) / L2, 0, 1)
        dist = np.hypot(X - (p0[0] + s * d[0]), Y - (p0[1] + s * d[1]))
        a = (alpha * np.exp(-0.5 * (dist / sigma) ** 2))[..., None]
        img = img * (1 - a) + np.array(col, float) * a

    streak((330, -20), (620, 440), 28, (165, 175, 190), 0.5)
    streak((640, 0), (860, 40), 22, (235, 238, 242), 0.5)
    streak((0, 250), (100, 295), 22, (120, 130, 148), 0.6)
    streak((40, 300), (220, 440), 30, (180, 190, 204), 0.3)
    streak((0, 430), (190, 720), 34, (246, 248, 252), 0.55)
    streak((0, 690), (160, 775), 24, (160, 170, 186), 0.45)
    streak((0, 770), (110, 812), 22, (140, 150, 166), 0.5)
    streak((0, 885), (18, 1000), 16, (120, 130, 148), 0.6)
    streak((0, 870), (14, 920), 9, (250, 250, 252), 0.6)
    return np.clip(img, 0, 255) / 255.0


bg_ax = fig.add_axes([0, 0, 1, 1], zorder=-10)
bg_ax.imshow(backdrop(), extent=[0, W, H, 0], aspect="auto", interpolation="bilinear")
bg_ax.set_axis_off()

# ---------------------------------------------------------------------------
# Panels
# ---------------------------------------------------------------------------
left = 198 / W
width = (1982 - 198) / W
t_end = 1.729


def panel_rect(top_px, bottom_px):
    return [left, 1 - bottom_px / H, width, (bottom_px - top_px) / H]


ax_x = fig.add_axes(panel_rect(43.5, 366.5))
ax_z = fig.add_axes(panel_rect(423.3, 746.7))
ax_p = fig.add_axes(panel_rect(803.3, 1126.7))

series = [
    (ax_x, x_trace, "#0000ff", 1.5, (-10.0, 8.47), x_ticks),
    (ax_z, z_trace, "#000000", 1.15, (-23.8, 48.7), z_ticks),
    (ax_p, zpsi_trace, "#ff0000", 1.15, (-0.859, 2.226), zpsi_ticks),
]

for ax, trace, colour, lw, ylim, yt in series:
    sns.lineplot(x=trace[:, 0] / 1000.0, y=trace[:, 1], ax=ax, color=colour,
                 linewidth=lw, estimator=None, sort=False, legend=False)
    ax.set_facecolor("white")
    ax.set_xlim(0, t_end)
    ax.set_ylim(*ylim)
    ax.set_xticks(time_ticks)
    ax.set_yticks(yt)
    ax.set_yticklabels([str(v).replace("-", "\u2212") for v in yt])
    ax.tick_params(direction="in", length=13, width=0.8, top=True, right=True,
                   labelsize=29, colors="black")
    ax.tick_params(axis="x", pad=13.5)
    ax.tick_params(axis="y", pad=5)
    for sp in ax.spines.values():
        sp.set_visible(True)
        sp.set_linewidth(1.2)
        sp.set_color("black")
    ax.set_xlabel("")
    ax.set_ylabel("")

ax_x.tick_params(labelbottom=False)
ax_z.tick_params(labelbottom=False)
ax_p.set_xticklabels(time_tick_labels)

ax_x.set_ylabel("x [pixels]", fontsize=35)
ax_x.yaxis.set_label_coords(-0.0535, 0.5)
ax_z.set_ylabel("z [pixels]", fontsize=35)
ax_z.yaxis.set_label_coords(-0.0535, 0.5)
ax_p.set_ylabel(r"z$_\mathregular{ψ}$ [μm]", fontsize=35)
ax_p.yaxis.set_label_coords(-0.033, 0.5)
ax_p.set_xlabel("t [s]", fontsize=35)
ax_p.xaxis.set_label_coords(0.5, -0.196)

fig.savefig("out.png", dpi=100)
